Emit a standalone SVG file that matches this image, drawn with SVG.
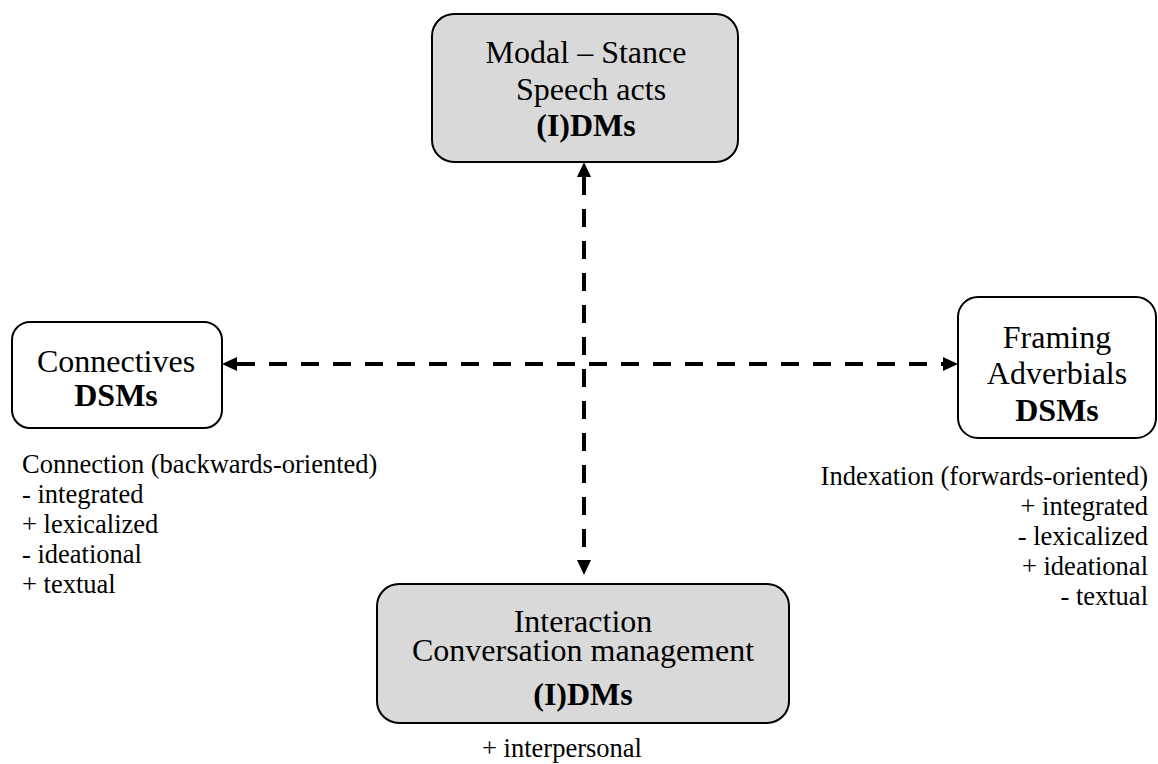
<svg xmlns="http://www.w3.org/2000/svg" width="1158" height="764" viewBox="0 0 1158 764">
<style>
.box{stroke:#000;stroke-width:2}
.gray{fill:#d9d9d9}
.white{fill:#fff}
text{font-family:"Liberation Serif","Times New Roman",serif;fill:#000}
.t{font-size:32px;text-anchor:middle}
.b{font-weight:bold}
.l{font-size:26.5px}
.conn{stroke:#000;stroke-width:4;stroke-dasharray:18 14;fill:none}
</style>
<defs>
<marker id="ah" viewBox="0 0 15 14" refX="0" refY="7" markerWidth="15" markerHeight="14" markerUnits="userSpaceOnUse" orient="auto-start-reverse">
<path d="M0,0 L15,7 L0,14 z" fill="#000"/>
</marker>
</defs>
<rect width="1158" height="764" fill="#fff"/>
<g id="connectors">
<line class="conn" x1="584" y1="177" x2="584" y2="560" marker-start="url(#ah)" marker-end="url(#ah)"/>
<line class="conn" x1="237" y1="364" x2="943" y2="364" marker-start="url(#ah)" marker-end="url(#ah)"/>
</g>
<g id="node-modal">
<rect class="box gray" x="432" y="14" width="306" height="148" rx="22"/>
<text class="t" x="586" y="63">Modal – Stance</text>
<text class="t" x="591" y="100">Speech acts</text>
<text class="t b" x="586" y="136">(I)DMs</text>
</g>
<g id="node-connectives">
<rect class="box white" x="12" y="322" width="210" height="106" rx="18"/>
<text class="t" x="116" y="372">Connectives</text>
<text class="t b" x="116" y="406">DSMs</text>
</g>
<g id="node-framing">
<rect class="box white" x="958" y="297" width="198" height="141" rx="20"/>
<text class="t" x="1057" y="348">Framing</text>
<text class="t" x="1057" y="384">Adverbials</text>
<text class="t b" x="1057" y="421">DSMs</text>
</g>
<g id="node-interaction">
<rect class="box gray" x="377" y="584" width="412" height="139" rx="22"/>
<text class="t" x="583" y="632">Interaction</text>
<text class="t" x="583" y="661">Conversation management</text>
<text class="t b" x="583" y="705">(I)DMs</text>
</g>
<g id="label-connection">
<text class="l" x="22" y="473">Connection (backwards-oriented)</text>
<text class="l" x="22" y="503">- integrated</text>
<text class="l" x="22" y="533">+ lexicalized</text>
<text class="l" x="22" y="563">- ideational</text>
<text class="l" x="22" y="593">+ textual</text>
</g>
<g id="label-indexation">
<text class="l" x="1148" y="485" text-anchor="end">Indexation (forwards-oriented)</text>
<text class="l" x="1148" y="515" text-anchor="end">+ integrated</text>
<text class="l" x="1148" y="545" text-anchor="end">- lexicalized</text>
<text class="l" x="1148" y="575" text-anchor="end">+ ideational</text>
<text class="l" x="1148" y="605" text-anchor="end">- textual</text>
</g>
<g id="label-interpersonal">
<text class="l" x="482" y="757">+ interpersonal</text>
</g>
</svg>
